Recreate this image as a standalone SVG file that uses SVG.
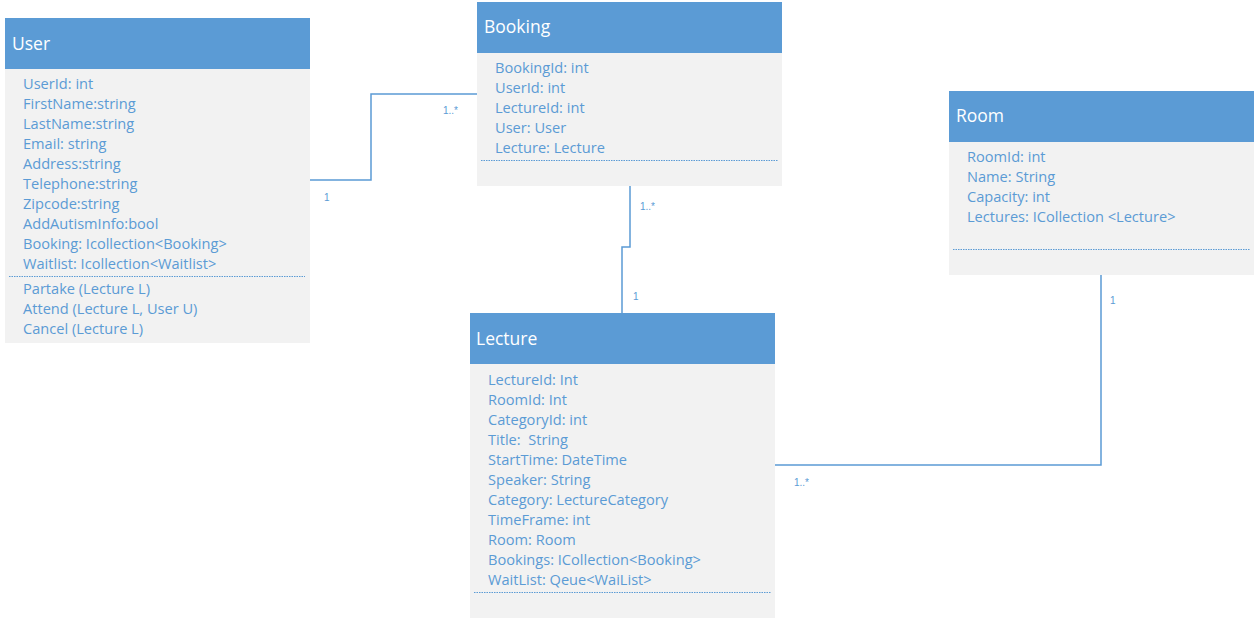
<svg xmlns="http://www.w3.org/2000/svg" width="1256" height="620" viewBox="0 0 1256 620">
<style>
.hd{fill:#5B9BD5}
.bd{fill:#F2F2F2}
.title{font-family:"Open Sans","Liberation Sans",sans-serif;font-size:17.5px;fill:#ffffff}
.at{font-family:"Open Sans","Liberation Sans",sans-serif;font-size:14.6px;fill:#5B9BD5;white-space:pre}
.sep{stroke:#5B9BD5;stroke-width:1;stroke-dasharray:1.5 1}
.conn{fill:none;stroke:#5B9BD5;stroke-width:1.5}
.lbl{font-family:"Liberation Sans",sans-serif;font-size:10px;fill:#5B9BD5}
</style>
<rect width="1256" height="620" fill="#ffffff"/>
<g id="connectors">
<polyline class="conn" points="310,180 371,180 371,94 477,94"/>
<polyline class="conn" points="630,186 630,247 622,247 622,313"/>
<polyline class="conn" points="1101,275 1101,465 775,465"/>
<text class="lbl" x="324" y="201">1</text>
<text class="lbl" x="443" y="114">1..*</text>
<text class="lbl" x="640" y="210">1..*</text>
<text class="lbl" x="633" y="300">1</text>
<text class="lbl" x="1110" y="304">1</text>
<text class="lbl" x="794" y="486">1..*</text>
</g>
<g id="user">
<rect class="bd" x="5" y="69" width="305" height="274"/>
<rect class="hd" x="5" y="18" width="305" height="51"/>
<text class="title" x="12" y="50">User</text>
<text class="at" x="23" y="89">UserId: int</text>
<text class="at" x="23" y="109">FirstName:string</text>
<text class="at" x="23" y="129">LastName:string</text>
<text class="at" x="23" y="149">Email: string</text>
<text class="at" x="23" y="169">Address:string</text>
<text class="at" x="23" y="189">Telephone:string</text>
<text class="at" x="23" y="209">Zipcode:string</text>
<text class="at" x="23" y="229">AddAutismInfo:bool</text>
<text class="at" x="23" y="249">Booking: Icollection&lt;Booking&gt;</text>
<text class="at" x="23" y="269">Waitlist: Icollection&lt;Waitlist&gt;</text>
<line class="sep" x1="9" y1="276.5" x2="305" y2="276.5"/>
<text class="at" x="23" y="294">Partake (Lecture L)</text>
<text class="at" x="23" y="314">Attend (Lecture L, User U)</text>
<text class="at" x="23" y="334">Cancel (Lecture L)</text>
</g>
<g id="booking">
<rect class="bd" x="477" y="53" width="305" height="133"/>
<rect class="hd" x="477" y="2" width="305" height="51"/>
<text class="title" x="484" y="33">Booking</text>
<text class="at" x="495" y="73">BookingId: int</text>
<text class="at" x="495" y="93">UserId: int</text>
<text class="at" x="495" y="113">LectureId: int</text>
<text class="at" x="495" y="133">User: User</text>
<text class="at" x="495" y="153">Lecture: Lecture</text>
<line class="sep" x1="481" y1="160.5" x2="778" y2="160.5"/>
</g>
<g id="room">
<rect class="bd" x="949" y="142" width="305" height="133"/>
<rect class="hd" x="949" y="91" width="305" height="51"/>
<text class="title" x="956" y="122">Room</text>
<text class="at" x="967" y="162">RoomId: int</text>
<text class="at" x="967" y="182">Name: String</text>
<text class="at" x="967" y="202">Capacity: int</text>
<text class="at" x="967" y="222">Lectures: ICollection &lt;Lecture&gt;</text>
<line class="sep" x1="953" y1="249.5" x2="1250" y2="249.5"/>
</g>
<g id="lecture">
<rect class="bd" x="470" y="364" width="305" height="254"/>
<rect class="hd" x="470" y="313" width="305" height="51"/>
<text class="title" x="476" y="345">Lecture</text>
<text class="at" x="488" y="385">LectureId: Int</text>
<text class="at" x="488" y="405">RoomId: Int</text>
<text class="at" x="488" y="425">CategoryId: int</text>
<text class="at" x="488" y="445" xml:space="preserve">Title:  String</text>
<text class="at" x="488" y="465">StartTime: DateTime</text>
<text class="at" x="488" y="485">Speaker: String</text>
<text class="at" x="488" y="505">Category: LectureCategory</text>
<text class="at" x="488" y="525">TimeFrame: int</text>
<text class="at" x="488" y="545">Room: Room</text>
<text class="at" x="488" y="565">Bookings: ICollection&lt;Booking&gt;</text>
<text class="at" x="488" y="585">WaitList: Qeue&lt;WaiList&gt;</text>
<line class="sep" x1="474" y1="592.5" x2="771" y2="592.5"/>
</g>
</svg>
